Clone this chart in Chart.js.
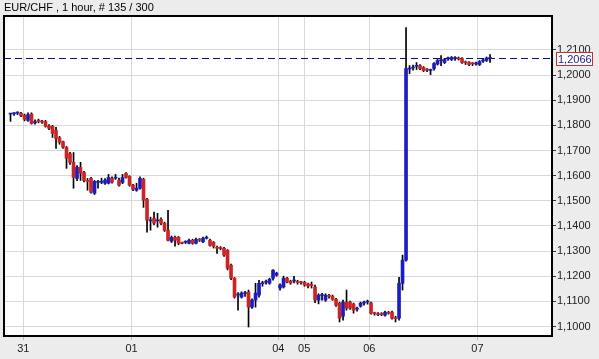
<!DOCTYPE html>
<html>
<head>
<meta charset="utf-8">
<title>EUR/CHF 1 hour</title>
<script src="https://cdn.jsdelivr.net/npm/chart.js@4.4.1/dist/chart.umd.min.js"></script>
<style>
  html, body { margin: 0; padding: 0; background: #ececec; }
  #wrap { width: 599px; height: 359px; }
</style>
</head>
<body>
<div id="wrap"><canvas id="chart" width="599" height="359"></canvas></div>
<script>
// EUR/CHF hourly candles (one entry per bar)
const opens = [
  1.1845, 1.1846, 1.1849, 1.1848, 1.1840, 1.1820, 1.1845, 1.1810, 1.1818, 1.1815,
  1.1815, 1.1798, 1.1796, 1.1780, 1.1750, 1.1735, 1.1712, 1.1688, 1.1653, 1.1589,
  1.1633, 1.1613, 1.1581, 1.1589, 1.1530, 1.1573, 1.1574, 1.1570, 1.1570, 1.1589,
  1.1590, 1.1582, 1.1573, 1.1609, 1.1597, 1.1562, 1.1542, 1.1550, 1.1585, 1.1506,
  1.1420, 1.1430, 1.1420, 1.1426, 1.1411, 1.1383, 1.1339, 1.1355, 1.1355, 1.1333,
  1.1335, 1.1331, 1.1343, 1.1331, 1.1345, 1.1337, 1.1351, 1.1343, 1.1335, 1.1312,
  1.1313, 1.1311, 1.1303, 1.1244, 1.1192, 1.1125, 1.1117, 1.1131, 1.1137, 1.1077,
  1.1105, 1.1125, 1.1170, 1.1176, 1.1172, 1.1192, 1.1204, 1.1153, 1.1157, 1.1192,
  1.1180, 1.1181, 1.1177, 1.1176, 1.1176, 1.1169, 1.1165, 1.1157, 1.1105, 1.1123,
  1.1105, 1.1122, 1.1121, 1.1108, 1.1093, 1.1041, 1.1097, 1.1097, 1.1089, 1.1069,
  1.1081, 1.1093, 1.1097, 1.1093, 1.1053, 1.1049, 1.1049, 1.1045, 1.1055, 1.1057,
  1.1033, 1.1033, 1.1172, 1.1264, 1.2024, 1.2028, 1.2035, 1.2038, 1.2030, 1.2022,
  1.2018, 1.2026, 1.2044, 1.2057, 1.2050, 1.2065, 1.2062, 1.2066, 1.2066, 1.2066,
  1.2050, 1.2050, 1.2046, 1.2044, 1.2042, 1.2056, 1.2058, 1.2066
];
const highs = [
  1.1847, 1.1851, 1.1854, 1.1852, 1.1845, 1.1850, 1.1850, 1.1822, 1.1825, 1.1820,
  1.1820, 1.1803, 1.1800, 1.1792, 1.1756, 1.1738, 1.1716, 1.1693, 1.1692, 1.1640,
  1.1653, 1.1617, 1.1589, 1.1593, 1.1581, 1.1581, 1.1590, 1.1588, 1.1605, 1.1595,
  1.1605, 1.1590, 1.1605, 1.1612, 1.1600, 1.1566, 1.1570, 1.1595, 1.1590, 1.1510,
  1.1435, 1.1455, 1.1450, 1.1432, 1.1415, 1.1462, 1.1360, 1.1360, 1.1358, 1.1336,
  1.1341, 1.1348, 1.1347, 1.1352, 1.1350, 1.1356, 1.1360, 1.1348, 1.1338, 1.1320,
  1.1318, 1.1315, 1.1306, 1.1248, 1.1195, 1.1135, 1.1138, 1.1140, 1.1145, 1.1110,
  1.1172, 1.1184, 1.1180, 1.1185, 1.1192, 1.1226, 1.1216, 1.1170, 1.1200, 1.1196,
  1.1184, 1.1200, 1.1184, 1.1180, 1.1180, 1.1173, 1.1177, 1.1165, 1.1130, 1.1132,
  1.1130, 1.1128, 1.1125, 1.1112, 1.1097, 1.1105, 1.1145, 1.1101, 1.1093, 1.1077,
  1.1097, 1.1101, 1.1105, 1.1097, 1.1057, 1.1055, 1.1055, 1.1061, 1.1060, 1.1061,
  1.1041, 1.1196, 1.1284, 1.2189, 1.2038, 1.2040, 1.2050, 1.2042, 1.2034, 1.2026,
  1.2024, 1.2050, 1.2062, 1.2078, 1.2066, 1.2072, 1.2074, 1.2074, 1.2072, 1.2070,
  1.2056, 1.2054, 1.2050, 1.2052, 1.2058, 1.2064, 1.2072, 1.2082
];
const lows = [
  1.1816, 1.1840, 1.1843, 1.1835, 1.1818, 1.1816, 1.1805, 1.1805, 1.1810, 1.1808,
  1.1793, 1.1783, 1.1752, 1.1708, 1.1725, 1.1708, 1.1629, 1.1645, 1.1550, 1.1580,
  1.1581, 1.1575, 1.1542, 1.1530, 1.1525, 1.1550, 1.1568, 1.1565, 1.1567, 1.1570,
  1.1585, 1.1558, 1.1568, 1.1590, 1.1558, 1.1540, 1.1538, 1.1546, 1.1474, 1.1375,
  1.1383, 1.1405, 1.1395, 1.1405, 1.1378, 1.1340, 1.1334, 1.1320, 1.1325, 1.1328,
  1.1330, 1.1328, 1.1327, 1.1328, 1.1338, 1.1333, 1.1348, 1.1320, 1.1312, 1.1291,
  1.1305, 1.1279, 1.1225, 1.1186, 1.1113, 1.1065, 1.1113, 1.1120, 1.0998, 1.1072,
  1.1077, 1.1117, 1.1160, 1.1168, 1.1168, 1.1184, 1.1200, 1.1145, 1.1153, 1.1173,
  1.1168, 1.1173, 1.1168, 1.1168, 1.1160, 1.1153, 1.1153, 1.1095, 1.1090, 1.1105,
  1.1100, 1.1113, 1.1104, 1.1080, 1.1018, 1.1025, 1.1065, 1.1068, 1.1053, 1.1061,
  1.1077, 1.1085, 1.1089, 1.1049, 1.1045, 1.1043, 1.1043, 1.1041, 1.1049, 1.1029,
  1.1018, 1.1025, 1.1145, 1.1260, 1.2006, 1.2020, 1.2022, 1.2022, 1.2014, 1.2014,
  1.2002, 1.2020, 1.2040, 1.2038, 1.2046, 1.2058, 1.2058, 1.2058, 1.2060, 1.2046,
  1.2042, 1.2038, 1.2038, 1.2040, 1.2038, 1.2050, 1.2054, 1.2050
];
const closes = [
  1.1846, 1.1848, 1.1850, 1.1838, 1.1824, 1.1843, 1.1808, 1.1815, 1.1816, 1.1813,
  1.1796, 1.1788, 1.1768, 1.1748, 1.1733, 1.1713, 1.1669, 1.1653, 1.1593, 1.1633,
  1.1609, 1.1581, 1.1577, 1.1534, 1.1577, 1.1575, 1.1578, 1.1582, 1.1593, 1.1574,
  1.1593, 1.1562, 1.1593, 1.1593, 1.1562, 1.1546, 1.1550, 1.1589, 1.1502, 1.1423,
  1.1423, 1.1411, 1.1422, 1.1411, 1.1383, 1.1343, 1.1355, 1.1343, 1.1331, 1.1331,
  1.1337, 1.1343, 1.1331, 1.1347, 1.1343, 1.1351, 1.1352, 1.1323, 1.1319, 1.1311,
  1.1310, 1.1284, 1.1232, 1.1192, 1.1117, 1.1129, 1.1133, 1.1133, 1.1077, 1.1105,
  1.1133, 1.1172, 1.1173, 1.1177, 1.1188, 1.1224, 1.1212, 1.1165, 1.1192, 1.1177,
  1.1173, 1.1183, 1.1175, 1.1174, 1.1165, 1.1161, 1.1163, 1.1105, 1.1125, 1.1125,
  1.1125, 1.1120, 1.1108, 1.1085, 1.1033, 1.1097, 1.1073, 1.1073, 1.1065, 1.1073,
  1.1093, 1.1095, 1.1099, 1.1053, 1.1051, 1.1047, 1.1048, 1.1057, 1.1053, 1.1033,
  1.1031, 1.1172, 1.1264, 1.2026, 1.2026, 1.2030, 1.2038, 1.2026, 1.2018, 1.2020,
  1.2019, 1.2046, 1.2058, 1.2059, 1.2062, 1.2066, 1.2070, 1.2067, 1.2064, 1.2050,
  1.2049, 1.2042, 1.2045, 1.2046, 1.2054, 1.2058, 1.2068, 1.2066
];

// day labels on the time axis and where they fall (in bar units)
const dayLabels = ["31", "01", "04", "05", "06", "07"];
const dayTicks = [3.66, 34.6, 76.5, 83.9, 102.5, 133.4];

// price axis
const priceTicks = [1.10, 1.11, 1.12, 1.13, 1.14, 1.15, 1.16, 1.17, 1.18, 1.19, 1.20, 1.21];
const lastPrice = 1.2066;
const titleText = "EUR/CHF , 1 hour, # 135 / 300";

const UP = "#1c1cc4";
const DOWN = "#cc2424";
const X_MIN = -1.86, X_MAX = 154.7;

const fmt = v => v.toFixed(4).replace(".", ",");

const bodies = opens.map((o, i) => ({ x: i, y: [Math.min(o, closes[i]), Math.max(o, closes[i])] }));
const wicks = lows.map((l, i) => ({ x: i, y: [l, highs[i]] }));
const bodyColors = opens.map((o, i) => (closes[i] >= o ? UP : DOWN));

const framePlugin = {
  id: "frame",
  beforeDraw(chart) {
    const { ctx, chartArea: a } = chart;
    ctx.save();
    ctx.fillStyle = "#ececec";
    ctx.fillRect(0, 0, chart.width, chart.height);
    ctx.fillStyle = "#ffffff";
    ctx.fillRect(a.left, a.top, a.right - a.left, a.bottom - a.top);
    ctx.restore();
  },
  afterDraw(chart) {
    const { ctx, chartArea: a } = chart;
    const y = chart.scales.y.getPixelForValue(lastPrice);
    ctx.save();
    // plot frame
    ctx.strokeStyle = "#000";
    ctx.lineWidth = 2;
    ctx.strokeRect(a.left, a.top, a.right - a.left, a.bottom - a.top);
    // last price box
    ctx.fillStyle = "#fff";
    ctx.fillRect(556.5, Math.round(y) - 6.5, 36, 13);
    ctx.strokeStyle = "#c83030";
    ctx.lineWidth = 1;
    ctx.strokeRect(556.5, Math.round(y) - 6.5, 36, 13);
    ctx.fillStyle = "#1a1a80";
    ctx.font = "11px Arial";
    ctx.textBaseline = "middle";
    ctx.fillText(fmt(lastPrice), 558, Math.round(y) + 0.5);
    // title
    ctx.fillStyle = "#000";
    ctx.font = "11px Arial";
    ctx.fillText(titleText, 4, 8);
    ctx.restore();
  }
};

new Chart(document.getElementById("chart"), {
  type: "bar",
  data: {
    datasets: [
      {
        label: "body",
        data: bodies,
        backgroundColor: bodyColors,
        barThickness: 3,
        minBarLength: 1,
        grouped: false,
        order: 0
      },
      {
        label: "wick",
        data: wicks,
        backgroundColor: "#000",
        barThickness: 1,
        grouped: false,
        order: 1
      },
      {
        type: "line",
        label: "last",
        data: [{ x: X_MIN, y: lastPrice }, { x: X_MAX, y: lastPrice }],
        borderColor: "#10107a",
        borderWidth: 1,
        borderDash: [7, 4],
        pointRadius: 0,
        order: 2
      }
    ]
  },
  options: {
    responsive: false,
    animation: false,
    layout: { padding: { top: 16, left: 4, right: 0, bottom: 0 } },
    plugins: { legend: { display: false }, tooltip: { enabled: false }, title: { display: false } },
    scales: {
      x: {
        type: "linear",
        min: X_MIN,
        max: X_MAX,
        offset: false,
        afterBuildTicks: s => { s.ticks = dayTicks.map(v => ({ value: v })); },
        afterFit: s => { s.height = 23; },
        border: { display: false },
        grid: { offset: false, color: "#d8d8d8", tickColor: "#b8b8b8", tickLength: 4 },
        ticks: {
          autoSkip: false,
          maxRotation: 0,
          padding: 2,
          color: "#222",
          font: { family: "Arial", size: 11 },
          callback: (v, i) => dayLabels[i]
        }
      },
      y: {
        position: "right",
        min: 1.09622,
        max: 1.22351,
        afterBuildTicks: s => { s.ticks = priceTicks.map(v => ({ value: v })); },
        afterFit: s => { s.width = 47; },
        border: { display: false },
        grid: { color: "#d8d8d8", tickColor: "#333", tickLength: 4 },
        ticks: {
          padding: 1,
          color: "#222",
          font: { family: "Arial", size: 11 },
          callback: v => fmt(v)
        }
      }
    }
  },
  plugins: [framePlugin]
});
</script>
</body>
</html>
